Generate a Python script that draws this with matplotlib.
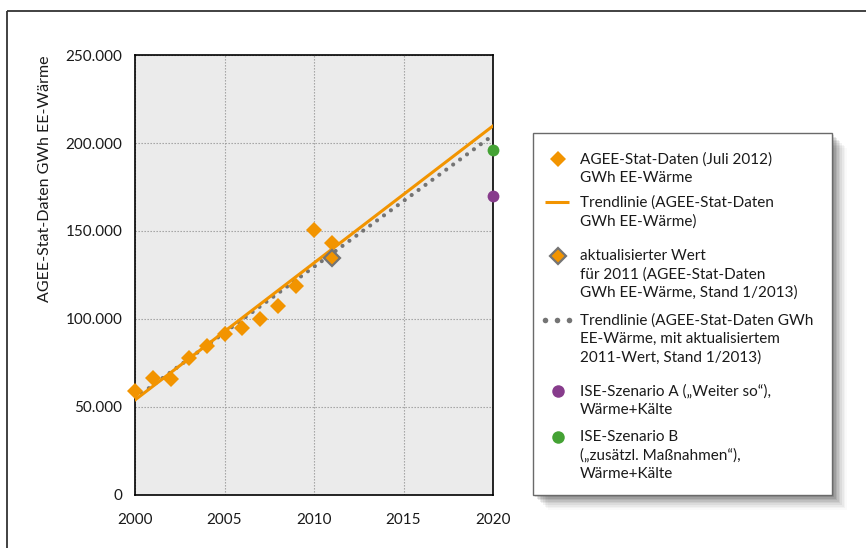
import matplotlib
matplotlib.use("Agg")
import matplotlib.pyplot as plt
from matplotlib.ticker import FuncFormatter
from matplotlib.patches import Rectangle

plt.rcParams['font.family'] = ['Lato', 'DejaVu Sans']

# Daten
jahre = [2000, 2001, 2002, 2003, 2004, 2005, 2006, 2007, 2008, 2009, 2010, 2011]
agee_daten = [59300, 66300, 65900, 77700, 84800, 91500, 95100, 99800, 107600, 118800, 150600, 143000]
jahr_update = [2011]
wert_update = [134500]
trend_jahre = [2000, 2020]
trend_werte = [54000, 209700]
trend2_werte = [54900, 204400]
ise_jahr = [2020]
ise_a = [169900]
ise_b = [196000]

orange = '#f29400'
grau = '#747474'
lila = '#873c8c'
gruen = '#44a234'

fig = plt.figure(figsize=(8.66, 5.48), dpi=100)
ax = fig.add_axes([135 / 866, 53 / 548, 358 / 866, 440 / 548])
ax.set_facecolor('#ebebeb')

ax.plot(trend_jahre, trend2_werte, color=grau, lw=3, linestyle=(0, (0.01, 2.05)),
        dash_capstyle='round', zorder=2)
ax.plot(trend_jahre, trend_werte, color=orange, lw=2.2, zorder=3)
ax.plot(jahre, agee_daten, 'D', color=orange, ms=8, mew=0, zorder=4, clip_on=False)
ax.plot(jahr_update, wert_update, 'D', mfc=orange, mec=grau, ms=8.5, mew=1.6, zorder=5)
ax.plot(ise_jahr, ise_a, 'o', color=lila, ms=8.5, mew=0, zorder=5, clip_on=False)
ax.plot(ise_jahr, ise_b, 'o', color=gruen, ms=8.5, mew=0, zorder=5, clip_on=False)

ax.set_xlim(2000, 2020)
ax.set_ylim(0, 250000)
ax.set_xticks([2000, 2005, 2010, 2015, 2020])
ax.set_yticks([0, 50000, 100000, 150000, 200000, 250000])
ax.yaxis.set_major_formatter(FuncFormatter(lambda v, p: f"{int(v):,}".replace(",", ".")))
ax.tick_params(length=0, labelsize=11, colors='#1a1a1a')
ax.tick_params(axis='x', pad=13)
ax.tick_params(axis='y', pad=9)
ax.grid(True, color='#9a9a9a', linestyle=(0, (1.2, 1.5)), lw=0.8)
ax.set_axisbelow(True)
for s in ax.spines.values():
    s.set_color('black')
    s.set_linewidth(1.2)
ax.set_ylabel('AGEE-Stat-Daten GWh EE-Wärme', fontsize=11.5, loc='top', labelpad=10, color='#1a1a1a')

# Overlay in Pixelkoordinaten: Rahmen und Legende
ov = fig.add_axes([0, 0, 1, 1], zorder=10)
ov.set_xlim(0, 866)
ov.set_ylim(548, 0)
ov.axis('off')
ov.patch.set_alpha(0)

ov.plot([7, 866], [11, 11], color='#333333', lw=1.3, solid_capstyle='butt')
ov.plot([7, 7], [11, 548], color='#333333', lw=1.3, solid_capstyle='butt')

# Schatten
for i, a in enumerate([0.10, 0.09, 0.08, 0.07, 0.06, 0.05, 0.04, 0.03, 0.02]):
    d = 2 + i * 1.6
    ov.add_patch(Rectangle((533 + d, 133 + d), 299, 362, facecolor='#000000',
                           edgecolor='none', alpha=a))
ov.add_patch(Rectangle((533, 133), 299, 362, facecolor='white', edgecolor='#6a6a6a', lw=1.0))

eintraege = [
    (160, ["AGEE-Stat-Daten (Juli 2012)", "GWh EE-Wärme"]),
    (203, ["Trendlinie (AGEE-Stat-Daten", "GWh EE-Wärme)"]),
    (256, ["aktualisierter Wert", "für 2011 (AGEE-Stat-Daten", "GWh EE-Wärme, Stand 1/2013)"]),
    (320.5, ["Trendlinie (AGEE-Stat-Daten GWh", "EE-Wärme, mit aktualisiertem", "2011-Wert, Stand 1/2013)"]),
    (391.5, ["ISE-Szenario A („Weiter so“),", "Wärme+Kälte"]),
    (437, ["ISE-Szenario B", "(„zusätzl. Maßnahmen“),", "Wärme+Kälte"]),
]
for y0, zeilen in eintraege:
    for k, z in enumerate(zeilen):
        ov.text(580, y0 + k * 18.5, z, fontsize=11, va='center', ha='left', color='#1a1a1a')

ov.plot([557.5], [159], 'D', color=orange, ms=8, mew=0)
ov.plot([545, 569], [202, 202], color=orange, lw=2.2, solid_capstyle='butt')
ov.plot([557.5], [256], 'D', mfc=orange, mec=grau, ms=8.5, mew=1.6)
ov.plot([545, 557, 569], [320, 320, 320], 'o', color=grau, ms=4, mew=0)
ov.plot([557.5], [391], 'o', color=lila, ms=9, mew=0)
ov.plot([557.5], [437], 'o', color=gruen, ms=9, mew=0)

fig.savefig('out.png', dpi=100)
